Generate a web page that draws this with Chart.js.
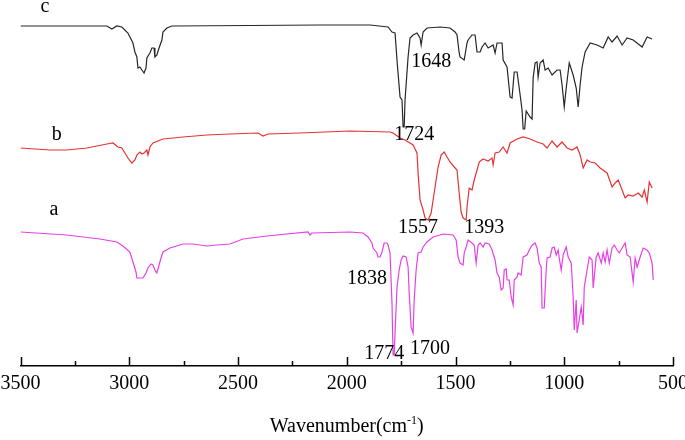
<!DOCTYPE html>
<html><head><meta charset="utf-8">
<script src="https://cdn.jsdelivr.net/npm/chart.js@4.4.1/dist/chart.umd.min.js"></script>
<style>html,body{margin:0;padding:0;background:#fff}#wrap{width:685px;height:440px}</style>
</head><body><div id="wrap"><canvas id="chart" width="685" height="440"></canvas></div>
<script>
// FTIR spectra, wavenumber (cm-1) and offset transmittance (a.u.)
const wavenumberC=[3500,3365,3227,3103,3080,3057,3034,3006,2983,2974,2965,2960,2951,2942,2932,2923,2919,2905,2896,2886,2882,2873,2863,2850,2845,2827,2804,2445,2123,1893,1810,1792,1778,1769,1755,1746,1741,1736,1732,1718,1709,1695,1677,1663,1658,1649,1631,1571,1525,1502,1493,1483,1479,1460,1447,1442,1424,1410,1401,1387,1378,1364,1350,1327,1318,1309,1286,1281,1263,1249,1240,1230,1217,1207,1194,1189,1182,1175,1157,1148,1143,1134,1125,1120,1111,1097,1088,1074,1056,1033,1019,1010,1000,991,977,959,945,936,927,918,904,881,849,821,798,780,757,734,711,683,642,619,596];
const transC=[340,340,340,340,337,340,339,333,323,314,309,298,299,296,293,298,308,313,318,318,309,311,318,326,334,338,340,340.5,341,341,339,334,333,306,269,266,239,239,266,309,328,331,333,328,321,334,338,339,338,334,331,313,309,306,323,326,331,331,314,314,319,323,318,321,313,323,323,306,299,269,268,294,294,278,256,237,237,255,249,247,288,303,304,289,303,306,296,298,291,296,296,281,259,278,303,291,278,259,281,299,314,323,321,318,329,324,330,321,328,326,319,329,327];
const wavenumberB=[3500,3365,3287,3195,3103,3075,3052,3034,3020,3006,2988,2974,2965,2951,2942,2932,2919,2914,2905,2891,2845,2753,2643,2537,2408,2385,2362,2215,1985,1801,1787,1755,1732,1695,1677,1672,1663,1649,1640,1626,1612,1603,1594,1580,1566,1552,1539,1525,1506,1493,1483,1474,1465,1451,1447,1437,1424,1414,1401,1391,1373,1350,1332,1327,1318,1299,1281,1263,1249,1217,1189,1157,1125,1097,1079,1056,1033,1010,987,964,941,927,913,895,881,858,835,803,780,766,752,734,720,706,683,660,642,632,619,609,596];
const transB=[218,216,216,218,222,223,219,218,213,208,203,206,211,214,212,213,216,211,219,223,227,229,231,232,233,230,232,233,235,234,233,228,226,221,213,193,166,156,148,146,153,166,179,199,211,214,209,204,199,196,173,154,148,146,159,178,176,186,196,204,207,205,208,201,213,214,219,213,223,227,229,227,224,222,218,225,219,224,218,216,219,211,198,206,204,203,198,193,179,183,186,176,168,171,170,173,169,176,164,184,178];
const wavenumberA=[3500,3287,3135,3057,3029,2997,2983,2969,2965,2937,2923,2914,2900,2891,2882,2873,2863,2854,2845,2813,2753,2707,2675,2643,2597,2537,2477,2367,2178,2169,2160,1985,1925,1902,1884,1879,1861,1856,1847,1838,1828,1815,1810,1801,1792,1787,1782,1778,1769,1759,1750,1741,1727,1718,1713,1704,1695,1690,1681,1672,1658,1649,1631,1603,1557,1511,1497,1488,1479,1465,1460,1451,1442,1424,1414,1405,1396,1387,1373,1364,1345,1332,1318,1309,1299,1290,1281,1276,1267,1263,1253,1244,1235,1230,1217,1212,1198,1189,1171,1161,1147,1134,1125,1115,1106,1102,1092,1083,1079,1065,1056,1046,1037,1028,1023,1014,1005,991,982,968,959,954,945,941,931,922,913,908,895,885,872,867,853,844,830,821,812,803,793,780,770,757,747,734,720,711,697,683,674,665,651,637,619,609,596,591];
const transA=[134,131,127,124,120,114,104,94,88,88,93,98,102,101,96,93,101,108,114,118,122,122,121,120,121,122,127,130,134,131,133,134,133,129,123,118,113,109,109,114,123,123,121,113,63,11,11,33,79,96,106,110,109,99,73,39,33,66,96,113,114,119,124,129,132,131,126,109,103,101,113,119,126,123,121,103,121,123,119,123,122,116,106,93,89,76,78,96,97,86,86,69,61,86,89,93,91,109,111,116,121,123,118,103,99,58,58,96,108,109,118,119,111,116,108,96,111,119,109,103,69,36,66,33,46,59,41,79,96,109,106,78,109,113,103,113,104,116,103,118,121,116,113,118,123,111,109,84,108,99,109,118,116,113,103,86];
const seriesNames=['c','b','a'];
const peakTexts=['1648','1724','1557','1393','1838','1774','1700'];
const axisTitle='Wavenumber(cm';
const axisTitleSup='-1';

// annotation anchors (wavenumber, transmittance)
const letterAnchors=[[3388,359],[3333,231],[3346,156]];
const peakAnchors=[[1612,304],[1690,231],[1672,138],[1368,138],[1907,87],[1828,12],[1617,17]];

const FONT='"Liberation Serif","Times New Roman",serif';
function pts(xs,ys){const n=Math.min(xs.length,ys.length);const o=[];for(let i=0;i<n;i++)o.push({x:xs[i],y:ys[i]});return o;}

const decor={
  id:'decor',
  afterDraw(chart){
    const {ctx,chartArea,scales:{x,y}}=chart;
    ctx.save();
    ctx.strokeStyle='#000';ctx.lineWidth=1.5;
    x.ticks.forEach(t=>{
      const px=Math.round(x.getPixelForValue(t.value))+0.5;
      const len=t.value%500===0?9:5;
      ctx.beginPath();ctx.moveTo(px,chartArea.bottom);ctx.lineTo(px,chartArea.bottom-len);ctx.stroke();
    });
    ctx.fillStyle='#000';ctx.font='20px '+FONT;ctx.textAlign='center';ctx.textBaseline='middle';
    seriesNames.forEach((s,i)=>ctx.fillText(s,x.getPixelForValue(letterAnchors[i][0]),y.getPixelForValue(letterAnchors[i][1])));
    peakTexts.forEach((s,i)=>ctx.fillText(s,x.getPixelForValue(peakAnchors[i][0]),y.getPixelForValue(peakAnchors[i][1])));
    // axis title with superscript
    ctx.textAlign='left';ctx.textBaseline='alphabetic';
    ctx.font='20px '+FONT;const w1=ctx.measureText(axisTitle).width;const w3=ctx.measureText(')').width;
    ctx.font='12px '+FONT;const w2=ctx.measureText(axisTitleSup).width;
    const cx=(chartArea.left+chartArea.right)/2;let sx=cx-(w1+w2+w3)/2;const by=432;
    ctx.font='20px '+FONT;ctx.fillText(axisTitle,sx,by);sx+=w1;
    ctx.font='12px '+FONT;ctx.fillText(axisTitleSup,sx,by-8);sx+=w2;
    ctx.font='20px '+FONT;ctx.fillText(')',sx,by);
    ctx.restore();
  }
};

new Chart(document.getElementById('chart'),{
  type:'line',
  data:{datasets:[
    {label:seriesNames[0],data:pts(wavenumberC,transC),borderColor:'#262626',borderWidth:1.2,pointRadius:0,tension:0,fill:false},
    {label:seriesNames[1],data:pts(wavenumberB,transB),borderColor:'#e53232',borderWidth:1.2,pointRadius:0,tension:0,fill:false},
    {label:seriesNames[2],data:pts(wavenumberA,transA),borderColor:'#e640e6',borderWidth:1.2,pointRadius:0,tension:0,fill:false}
  ]},
  options:{
    responsive:false,animation:false,devicePixelRatio:1,
    layout:{padding:{left:20.5,right:12,top:0,bottom:0}},
    plugins:{legend:{display:false},tooltip:{enabled:false}},
    scales:{
      x:{type:'linear',reverse:true,min:500,max:3500,
        grid:{display:true,drawOnChartArea:false,drawTicks:false},
        border:{display:true,color:'#000',width:1.5},
        ticks:{stepSize:250,autoSkip:false,maxRotation:0,padding:6,color:'#000',font:{family:FONT,size:20},
          callback:v=>v%500===0?String(v):''},
        afterFit(s){s.height=74;s.paddingLeft=0;s.paddingRight=0;}
      },
      y:{display:false,min:0,max:366}
    }
  },
  plugins:[decor]
});
</script></body></html>
